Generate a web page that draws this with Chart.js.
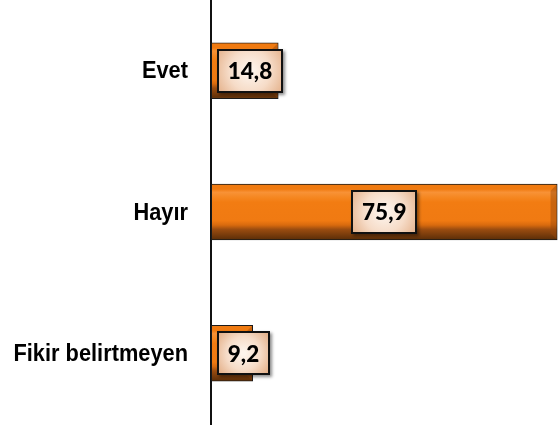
<!DOCTYPE html>
<html><head><meta charset="utf-8">
<script src="https://cdn.jsdelivr.net/npm/chart.js@4"></script>
<style>html,body{margin:0;padding:0;background:#fff;}#wrap{width:558px;height:428px;position:relative;}</style>
</head><body><div id="wrap"><canvas id="c"></canvas></div>
<script>
const categories = ['Evet', 'Hayır', 'Fikir belirtmeyen'];
const values = [14.8, 75.9, 9.2];
const valueLabels = ['14,8', '75,9', '9,2'];
const xMin = 0;
const xMax = 76;

const bevelPlugin = {
  id: 'bevel',
  afterDatasetsDraw(chart) {
    const ctx = chart.ctx;
    const meta = chart.getDatasetMeta(0);
    meta.data.forEach((bar) => {
      const p = bar.getProps(['x', 'y', 'base', 'height'], true);
      const L = Math.min(p.base, p.x) + 1, R = Math.max(p.base, p.x) - 1;
      const T = p.y - p.height / 2 + 1, B = p.y + p.height / 2 - 1;
      const b = 6;
      ctx.save();
      const g = ctx.createLinearGradient(0, T, 0, B);
      g.addColorStop(0, '#F07A10');
      g.addColorStop(0.08, '#F07A10');
      g.addColorStop(0.14, '#F89236');
      g.addColorStop(0.24, '#F5861F');
      g.addColorStop(0.32, '#F27C12');
      g.addColorStop(0.66, '#F07A12');
      g.addColorStop(0.74, '#D86A0E');
      g.addColorStop(0.82, '#9A4C10');
      g.addColorStop(1, '#5E2F08');
      ctx.fillStyle = g;
      ctx.fillRect(L, T, R - L, B - T);
      if (R - L > 2 * b) {
        ctx.beginPath();
        ctx.moveTo(R, T); ctx.lineTo(R, B); ctx.lineTo(R - b, B - b); ctx.lineTo(R - b, T + b); ctx.closePath();
        ctx.fillStyle = 'rgba(150,70,10,0.45)';
        ctx.fill();
      }
      ctx.restore();
    });
  }
};

const catLabelPlugin = {
  id: 'catLabels',
  afterDraw(chart) {
    const ctx = chart.ctx;
    const ys = chart.scales.y;
    const xRight = ys.right - 23;
    ctx.save();
    ctx.font = 'bold 24.5px "Liberation Sans", Arial, sans-serif';
    ctx.fillStyle = '#000';
    ctx.textAlign = 'right';
    ctx.textBaseline = 'middle';
    categories.forEach((lab, i) => {
      const y = ys.getPixelForTick(i);
      ctx.save();
      ctx.translate(xRight, y + 1);
      ctx.scale(0.89, 1);
      ctx.fillText(lab, 0, 0);
      ctx.restore();
    });
    ctx.restore();
  }
};

const labelPlugin = {
  id: 'valueBoxes',
  afterDatasetsDraw(chart) {
    const ctx = chart.ctx;
    const meta = chart.getDatasetMeta(0);
    const axisX = chart.scales.x.getPixelForValue(xMin);
    ctx.save();
    ctx.font = '900 22.5px Lato, "Open Sans", sans-serif';
    meta.data.forEach((bar, i) => {
      const p = bar.getProps(['x', 'y', 'base'], true);
      const txt = valueLabels[i];
      const tw = ctx.measureText(txt).width;
      const w = Math.round(tw + 22), h = 44;
      let cx = (p.x + p.base) / 2;
      cx = Math.max(cx, axisX + 6 + w / 2);
      const x0 = Math.round(cx - w / 2), y0 = Math.round(p.y - h / 2);
      ctx.save();
      ctx.shadowColor = 'rgba(0,0,0,0.45)';
      ctx.shadowBlur = 3;
      ctx.shadowOffsetX = 2;
      ctx.shadowOffsetY = 2;
      const rg = ctx.createRadialGradient(cx, p.y, 2, cx, p.y, w * 0.6);
      rg.addColorStop(0, '#FDF4EC');
      rg.addColorStop(0.5, '#F6DCC8');
      rg.addColorStop(1, '#E3AE86');
      ctx.fillStyle = rg;
      ctx.fillRect(x0, y0, w, h);
      ctx.restore();
      ctx.lineWidth = 2;
      ctx.strokeStyle = '#111';
      ctx.strokeRect(x0 + 1, y0 + 1, w - 2, h - 2);
      ctx.fillStyle = '#000';
      ctx.textAlign = 'center';
      ctx.textBaseline = 'middle';
      ctx.fillText(txt, cx, p.y + 1);
    });
    ctx.restore();
  }
};

new Chart(document.getElementById('c'), {
  type: 'bar',
  data: {
    labels: categories,
    datasets: [{
      data: values,
      backgroundColor: '#F07A12',
      borderColor: '#1a1a1a',
      borderWidth: 1.5,
      borderSkipped: false,
      barPercentage: 0.4,
      categoryPercentage: 1.0
    }]
  },
  options: {
    indexAxis: 'y',
    responsive: true,
    maintainAspectRatio: false,
    animation: false,
    layout: { padding: { top: 0, bottom: 4, left: 0, right: 0 } },
    plugins: { legend: { display: false }, tooltip: { enabled: false } },
    scales: {
      x: { display: false, min: xMin, max: xMax },
      y: {
        grid: { display: false, drawTicks: false },
        border: { display: true, color: '#111', width: 2 },
        ticks: { display: false },
        afterFit(scale) { scale.width = 211; scale.paddingTop = 0; scale.paddingBottom = 0; }
      }
    }
  },
  plugins: [bevelPlugin, labelPlugin, catLabelPlugin]
});
</script>
</body></html>
